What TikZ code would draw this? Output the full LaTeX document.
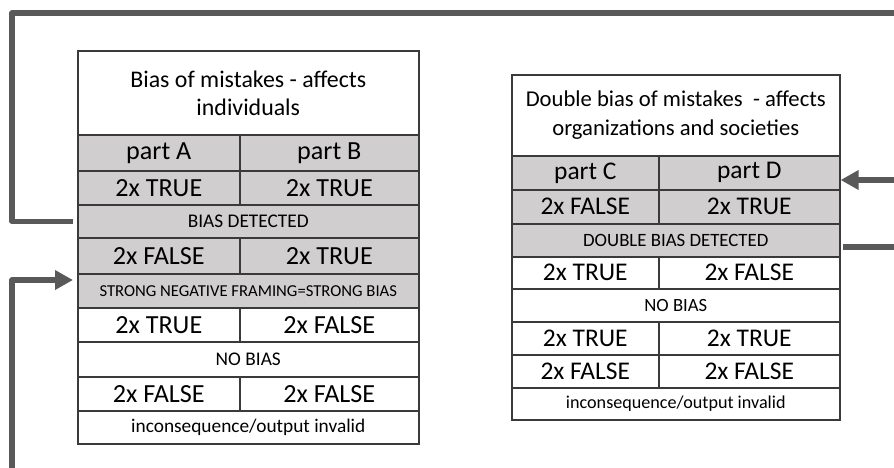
\documentclass[tikz,border=0pt]{standalone}
\usepackage{fontspec}
\setmainfont{Carlito}
\usetikzlibrary{arrows.meta,positioning}
\definecolor{shade}{HTML}{D0CECE}
\definecolor{rulegray}{HTML}{3A3A3A}
\definecolor{linkgray}{HTML}{595959}
\tikzset{
  cell/.style={draw=rulegray, line width=1.2pt, anchor=north west, inner sep=0pt, align=center, text=black},
  grey/.style={cell, fill=shade},
  blank/.style={cell, fill=white},
  sz/.style 2 args={minimum width=#1*0.75pt, minimum height=#2*0.75pt},
  titlefont/.style={font=\fontsize{17.9}{21}\selectfont},
  valfont/.style={font=\fontsize{19.6}{23}\selectfont},
  rvalfont/.style={font=\fontsize{19.1}{23}\selectfont},
  notefont/.style={font=\fontsize{14.5}{17}\selectfont},
  smallfont/.style={font=\fontsize{12.5}{15}\selectfont},
  link/.style={draw=linkgray, line width=4pt, line join=round},
  linkarrow/.style={link, -{Triangle[length=13.5pt, width=14pt]}}
}
\begin{document}
\begin{tikzpicture}[x=0.75pt, y=-0.75pt]
  \useasboundingbox (0,0) rectangle (894,468);
  % left table
  \node[blank, sz={341}{84}, titlefont] (lTitle) at (77,50) {Bias of mistakes - affects\\individuals};
  \node[grey, sz={162}{36}, valfont] (lPartA) at (77,134) {part A};
  \node[grey, sz={179}{36}, valfont] (lPartB) at (239,134) {part B};
  \node[grey, sz={162}{34}, valfont] (lA1) at (77,170) {2x TRUE};
  \node[grey, sz={179}{34}, valfont] (lB1) at (239,170) {2x TRUE};
  \node[grey, sz={341}{33}, notefont] (lBias) at (77,204) {BIAS DETECTED};
  \node[grey, sz={162}{36}, valfont] (lA2) at (77,237) {2x FALSE};
  \node[grey, sz={179}{36}, valfont] (lB2) at (239,237) {2x TRUE};
  \node[grey, sz={341}{34}, smallfont] (lStrong) at (77,273) {STRONG NEGATIVE FRAMING=STRONG BIAS};
  \node[blank, sz={162}{34}, valfont] (lA3) at (77,307) {2x TRUE};
  \node[blank, sz={179}{34}, valfont] (lB3) at (239,307) {2x FALSE};
  \node[blank, sz={341}{35}, notefont] (lNo) at (77,341) {NO BIAS};
  \node[blank, sz={162}{34}, valfont] (lA4) at (77,376) {2x FALSE};
  \node[blank, sz={179}{34}, valfont] (lB4) at (239,376) {2x FALSE};
  \node[blank, sz={341}{33}, notefont] (lInv) at (77,410) {inconsequence/output invalid};
  % right table
  \node[blank, sz={328}{81}, font=\fontsize{17}{21.5}\selectfont] (rTitle) at (511,74) {Double bias of mistakes~~- affects\\organizations and societies};
  \node[grey, sz={147}{34}, rvalfont] (rPartC) at (511,155) {part C};
  \node[grey, sz={181}{34}, rvalfont] (rPartD) at (658,155) {part D};
  \node[grey, sz={147}{34}, rvalfont] (rC1) at (511,189) {2x FALSE};
  \node[grey, sz={181}{34}, rvalfont] (rD1) at (658,189) {2x TRUE};
  \node[grey, sz={328}{33}, font=\fontsize{14.1}{17}\selectfont] (rDouble) at (511,223) {DOUBLE BIAS DETECTED};
  \node[blank, sz={147}{32}, rvalfont] (rC2) at (511,256) {2x TRUE};
  \node[blank, sz={181}{32}, rvalfont] (rD2) at (658,256) {2x FALSE};
  \node[blank, sz={328}{33}, font=\fontsize{14}{17}\selectfont] (rNo) at (511,288) {NO BIAS};
  \node[blank, sz={147}{33}, rvalfont] (rC3) at (511,321) {2x TRUE};
  \node[blank, sz={181}{33}, rvalfont] (rD3) at (658,321) {2x TRUE};
  \node[blank, sz={147}{33}, rvalfont] (rC4) at (511,354) {2x FALSE};
  \node[blank, sz={181}{33}, rvalfont] (rD4) at (658,354) {2x FALSE};
  \node[blank, sz={328}{32}, font=\fontsize{13.6}{17}\selectfont] (rInv) at (511,387) {inconsequence/output invalid};
  % connector ends
  \coordinate (topEnd) at (894,13);
  \coordinate (leftRail) at (12,13);
  \coordinate (bottomEnd) at (12,468);
  \coordinate (strongIn) at (12,280);
  \coordinate (rightIn) at (894,180);
  \coordinate (rightOut) at (894,247);
  % connectors
  \draw[link, shorten >=3pt] (topEnd) -- (leftRail) |- (lBias.west);
  \draw[linkarrow, shorten >=3pt] (bottomEnd) -- (strongIn) -- (strongIn -| lStrong.west);
  \draw[linkarrow] (rightIn) -- (rightIn -| rPartD.east);
  \draw[link, shorten <=2pt] (rightOut -| rDouble.east) -- (rightOut);
\end{tikzpicture}
\end{document}
